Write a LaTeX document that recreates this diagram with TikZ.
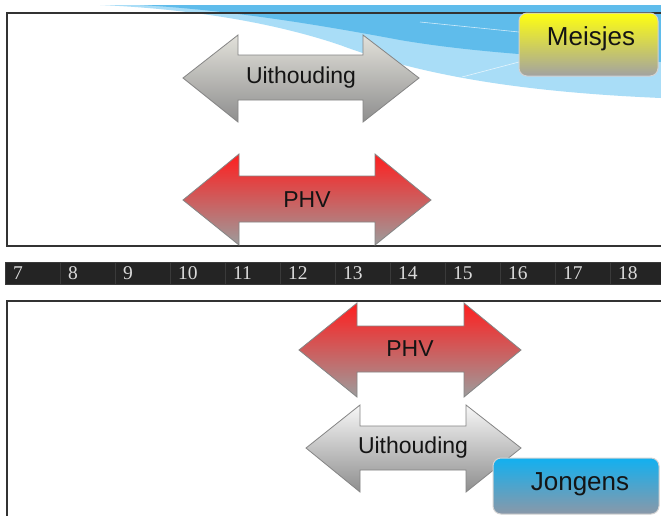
\documentclass[tikz,border=0pt]{standalone}
\usepackage{fontspec}
\setmainfont{Liberation Sans}
\newfontfamily\numfont{Liberation Serif}
\definecolor{skylight}{HTML}{A9DDF7}
\definecolor{skymid}{HTML}{5FBCEB}
\definecolor{arrowline}{HTML}{858585}
\definecolor{txtdark}{HTML}{141414}
\definecolor{barcell}{HTML}{242424}
\definecolor{barsep}{HTML}{3A3A3A}
\definecolor{numgray}{HTML}{DADADA}
\definecolor{phvred}{HTML}{FF1E1E}
\definecolor{phvmid}{HTML}{D86A6A}
\definecolor{phvgray}{HTML}{9C9C9C}
\definecolor{uitop}{HTML}{E2E1DA}
\definecolor{uibot}{HTML}{8E8E8E}
\definecolor{uitopw}{HTML}{F7F7F7}
\definecolor{meisyel}{HTML}{FFFF10}
\definecolor{meisgray}{HTML}{A2A2A2}
\definecolor{jongblue}{HTML}{12B0F0}
\definecolor{jonggray}{HTML}{8A98A8}
\begin{document}
\begin{tikzpicture}[x=1pt,y=-1pt,
  arrowshape/.style={draw=arrowline, line width=0.8pt, line join=miter},
  phvfill/.style={arrowshape, top color=phvred, middle color=phvmid, bottom color=phvgray},
  uifill/.style={arrowshape, top color=uitop, bottom color=uibot},
  uifillw/.style={arrowshape, top color=uitopw, bottom color=uibot},
  arrowlabel/.style={text=txtdark, font=\fontsize{23}{23}\selectfont, inner sep=0pt},
  tagbox/.style={draw=gray!35, line width=1pt, rounded corners=8pt, inner sep=0pt},
  taglabel/.style={text=txtdark, font=\fontsize{26}{26}\selectfont, inner sep=0pt},
  frameline/.style={draw=black!80, line width=1.2pt},
  barbox/.style={fill=barcell, draw=barsep, line width=0.5pt},
  barnum/.style={text=numgray, font=\numfont\fontsize{19.5}{19.5}\selectfont, inner sep=0pt, anchor=west}
]
\useasboundingbox (0,0) rectangle (661,515);
\fill[white] (0,0) rectangle (661,515);

% swoosh
\fill[skylight] (100,5) -- (661,5) -- (661,98)
  .. controls (520,92) and (420,75) .. (340,45)
  .. controls (260,18) and (170,8) .. (100,5) -- cycle;
\fill[skymid] (140,5) -- (661,5) -- (661,62)
  .. controls (560,58) and (470,52) .. (400,40)
  .. controls (320,25) and (230,10) .. (140,5) -- cycle;
\draw[white, opacity=0.7, line width=0.6pt] (420,22) -- (519,32);
\draw[white, opacity=0.7, line width=0.6pt] (462,77) -- (519,62);

% frames
\draw[frameline] (661,13) -- (7,13) -- (7,246) -- (661,246);
\draw[frameline] (661,301) -- (7,301) -- (7,518);

% top arrows
\path[uifill] (183,78) -- (238,35) -- (238,55) -- (363,55) -- (363,35) -- (419,78)
  -- (363,122) -- (363,100) -- (238,100) -- (238,122) -- cycle;
\node[arrowlabel] (uitop) at (301,78) {Uithouding};

\path[phvfill] (183,200) -- (239,154) -- (239,176) -- (375,176) -- (375,154) -- (431,200)
  -- (375,245) -- (375,222) -- (239,222) -- (239,245) -- cycle;
\node[arrowlabel] (phvtop) at (307,200) {PHV};

% number bar
\foreach \n [count=\i from 0] in {7,8,...,18} {
  \pgfmathsetmacro{\xl}{5+55*\i}
  \pgfmathsetmacro{\xr}{min(5+55*(\i+1),663)}
  \path[barbox] (\xl,262) rectangle (\xr,284);
  \node[barnum] (num\n) at (\xl+8,273.5) {\n};
}

% bottom arrows
\path[phvfill] (299,350) -- (357,303) -- (357,326) -- (464,326) -- (464,303) -- (521,350)
  -- (464,397) -- (464,372) -- (357,372) -- (357,397) -- cycle;
\node[arrowlabel] (phvbot) at (410,349) {PHV};

\path[uifillw] (306,448) -- (360,405) -- (360,426) -- (466,426) -- (466,405) -- (521,448)
  -- (466,492) -- (466,470) -- (360,470) -- (360,492) -- cycle;
\node[arrowlabel] (uibot) at (413,448) {Uithouding};

% tags
\node[tagbox, top color=meisyel, bottom color=meisgray, minimum width=139pt, minimum height=63pt] (meisbox) at (588.5,44.5) {};
\node[taglabel] (meis) at (591,39) {Meisjes};

\node[tagbox, top color=jongblue, bottom color=jonggray, minimum width=166pt, minimum height=56pt] (jongbox) at (576,486) {};
\node[taglabel] (jong) at (580,484) {Jongens};
\end{tikzpicture}
\end{document}
